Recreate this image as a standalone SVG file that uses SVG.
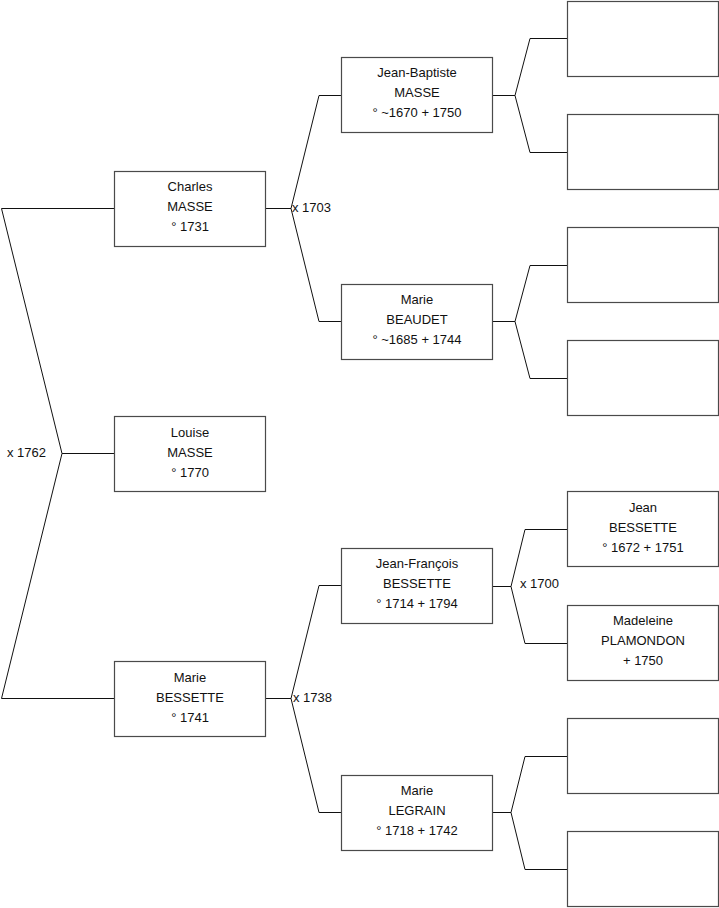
<svg xmlns="http://www.w3.org/2000/svg" width="719" height="908" viewBox="0 0 719 908">
<style>
.box{fill:#fff;stroke:#4a4a4a;stroke-width:1.2}
.ln{fill:none;stroke:#111;stroke-width:1}
text{font-family:"Liberation Sans",Arial,sans-serif;font-size:13px;fill:#111}
.c{text-anchor:middle}
</style>
<rect width="719" height="908" fill="#fff"/>
<g id="connectors">
<polyline class="ln" points="114,208.5 1.5,208.5 62,453.5 1.5,698.5 114,698.5"/>
<line class="ln" x1="62" y1="453.5" x2="114" y2="453.5"/>
<line class="ln" x1="265" y1="208.5" x2="291" y2="208.5"/>
<polyline class="ln" points="341,95.5 319,95.5 291,208.5 319,321.5 341,321.5"/>
<line class="ln" x1="265" y1="698.5" x2="291" y2="698.5"/>
<polyline class="ln" points="341,585.5 319,585.5 291,698.5 319,812.5 341,812.5"/>
<line class="ln" x1="492" y1="95.5" x2="515" y2="95.5"/>
<polyline class="ln" points="567,38.5 530,38.5 515,95.5 530,152.5 567,152.5"/>
<line class="ln" x1="492" y1="321.5" x2="515" y2="321.5"/>
<polyline class="ln" points="567,265.5 530,265.5 515,321.5 530,378.5 567,378.5"/>
<line class="ln" x1="492" y1="586.5" x2="511" y2="586.5"/>
<polyline class="ln" points="567,529.5 525,529.5 511,586.5 525,643.5 567,643.5"/>
<line class="ln" x1="492" y1="812.5" x2="511" y2="812.5"/>
<polyline class="ln" points="567,756.5 525,756.5 511,812.5 525,869.5 567,869.5"/>
<text x="7" y="457">x 1762</text>
<text x="292" y="212">x 1703</text>
<text x="293" y="702">x 1738</text>
<text x="520" y="588">x 1700</text>
</g>
<g id="charles">
<rect class="box" x="114.5" y="171.5" width="151" height="75"/>
<text class="c" x="190" y="191">Charles</text>
<text class="c" x="190" y="211">MASSE</text>
<text class="c" x="190" y="231">° 1731</text>
</g>
<g id="louise">
<rect class="box" x="114.5" y="416.5" width="151" height="75"/>
<text class="c" x="190" y="437">Louise</text>
<text class="c" x="190" y="457">MASSE</text>
<text class="c" x="190" y="477">° 1770</text>
</g>
<g id="marie-bessette">
<rect class="box" x="114.5" y="661.5" width="151" height="75"/>
<text class="c" x="190" y="682">Marie</text>
<text class="c" x="190" y="702">BESSETTE</text>
<text class="c" x="190" y="722">° 1741</text>
</g>
<g id="jean-baptiste">
<rect class="box" x="341.5" y="57.5" width="151" height="75"/>
<text class="c" x="417" y="77">Jean-Baptiste</text>
<text class="c" x="417" y="97">MASSE</text>
<text class="c" x="417" y="117">° ~1670 + 1750</text>
</g>
<g id="marie-beaudet">
<rect class="box" x="341.5" y="284.5" width="151" height="75"/>
<text class="c" x="417" y="304">Marie</text>
<text class="c" x="417" y="324">BEAUDET</text>
<text class="c" x="417" y="344">° ~1685 + 1744</text>
</g>
<g id="jean-francois">
<rect class="box" x="341.5" y="548.5" width="151" height="75"/>
<text class="c" x="417" y="568">Jean-François</text>
<text class="c" x="417" y="588">BESSETTE</text>
<text class="c" x="417" y="608">° 1714 + 1794</text>
</g>
<g id="marie-legrain">
<rect class="box" x="341.5" y="775.5" width="151" height="75"/>
<text class="c" x="417" y="795">Marie</text>
<text class="c" x="417" y="815">LEGRAIN</text>
<text class="c" x="417" y="835">° 1718 + 1742</text>
</g>
<g id="empty1"><rect class="box" x="567.5" y="1.5" width="151" height="75"/></g>
<g id="empty2"><rect class="box" x="567.5" y="114.5" width="151" height="75"/></g>
<g id="empty3"><rect class="box" x="567.5" y="227.5" width="151" height="75"/></g>
<g id="empty4"><rect class="box" x="567.5" y="340.5" width="151" height="75"/></g>
<g id="jean-bessette">
<rect class="box" x="567.5" y="491.5" width="151" height="75"/>
<text class="c" x="643" y="512">Jean</text>
<text class="c" x="643" y="532">BESSETTE</text>
<text class="c" x="643" y="552">° 1672 + 1751</text>
</g>
<g id="madeleine-plamondon">
<rect class="box" x="567.5" y="605.5" width="151" height="75"/>
<text class="c" x="643" y="625">Madeleine</text>
<text class="c" x="643" y="645">PLAMONDON</text>
<text class="c" x="643" y="665">+ 1750</text>
</g>
<g id="empty7"><rect class="box" x="567.5" y="718.5" width="151" height="75"/></g>
<g id="empty8"><rect class="box" x="567.5" y="831.5" width="151" height="75"/></g>
</svg>
